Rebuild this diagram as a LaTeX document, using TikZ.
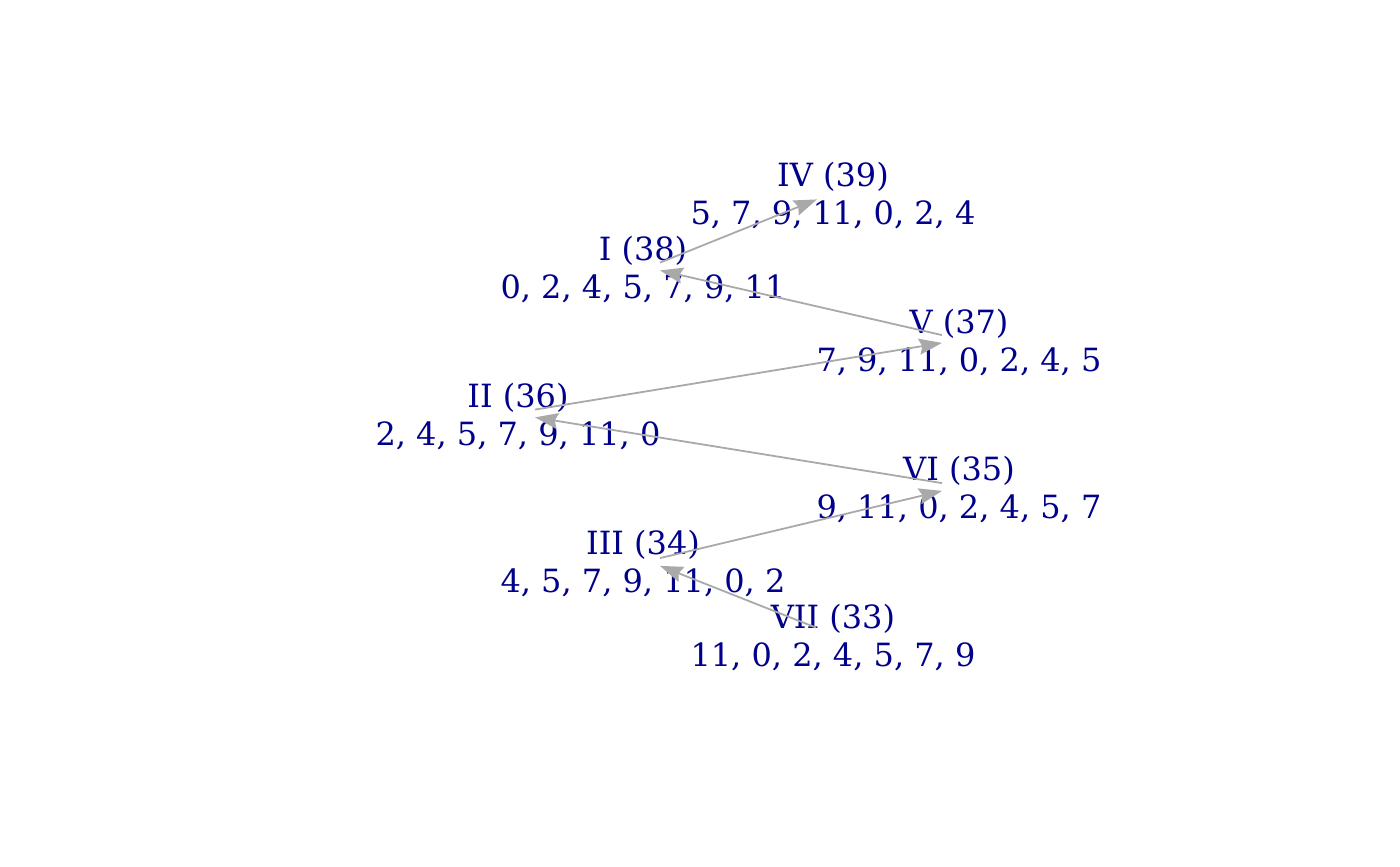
\documentclass[tikz,border=0pt]{standalone}
\usepackage{fontspec}
\setmainfont{DejaVu Serif}
\usetikzlibrary{arrows.meta}
\definecolor{labelblue}{HTML}{00008B}
\definecolor{edgegray}{HTML}{A9A9A9}
\begin{document}
\begin{tikzpicture}[x=0.5pt,y=-0.5pt,
  vtx/.style={inner sep=0pt, minimum width=0pt, minimum height=3.5pt, draw=none},
  lbl/.style={align=center, text=labelblue, font=\fontsize{16}{19}\selectfont, inner sep=0pt},
  conn/.style={draw=edgegray, line width=0.9pt, -{Stealth[length=11.5pt,width=8pt,inset=1.5pt]}}]
\useasboundingbox (0,0) rectangle (1400,866);
% vertices
\node[vtx] (IV)  at (817,195.5) {};
\node[vtx] (I)   at (660,266.5) {};
\node[vtx] (V)   at (942,339) {};
\node[vtx] (II)  at (535,413.5) {};
\node[vtx] (VI)  at (942,487) {};
\node[vtx] (III) at (660,562) {};
\node[vtx] (VII) at (816,631.5) {};
% labels
\node[lbl] (lIV)  at (833,195.5) {IV (39)\\5, 7, 9, 11, 0, 2, 4};
\node[lbl] (lI)   at (643,269.5) {I (38)\\0, 2, 4, 5, 7, 9, 11};
\node[lbl] (lV)   at (959,342.5) {V (37)\\7, 9, 11, 0, 2, 4, 5};
\node[lbl] (lII)  at (518,416.5) {II (36)\\2, 4, 5, 7, 9, 11, 0};
\node[lbl] (lVI)  at (959,489.5) {VI (35)\\9, 11, 0, 2, 4, 5, 7};
\node[lbl] (lIII) at (643,563.5) {III (34)\\4, 5, 7, 9, 11, 0, 2};
\node[lbl] (lVII) at (833,637.5) {VII (33)\\11, 0, 2, 4, 5, 7, 9};
% edges
\draw[conn] (I.north) -- (IV.south);
\draw[conn] (V.north) -- (I.south);
\draw[conn] (II.north) -- (V.south);
\draw[conn] (VI.north) -- (II.south);
\draw[conn] (III.north) -- (VI.south);
\draw[conn] (VII.north) -- (III.south);
\end{tikzpicture}
\end{document}
